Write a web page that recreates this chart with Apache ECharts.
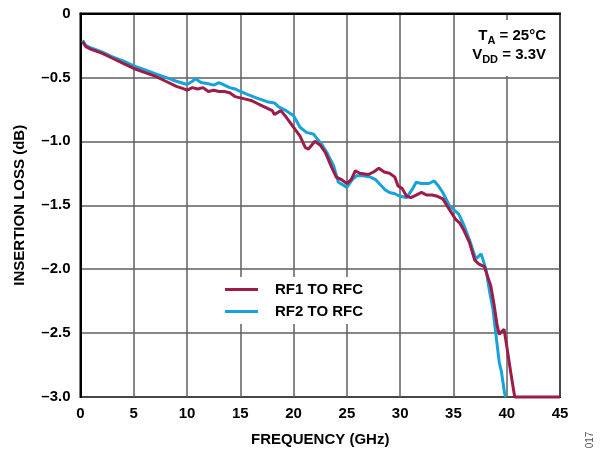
<!DOCTYPE html>
<html>
<head>
<meta charset="utf-8">
<script src="https://cdn.jsdelivr.net/npm/echarts@6/dist/echarts.min.js"></script>
<style>html,body{margin:0;padding:0;background:#fff;}#c{width:601px;height:452px;}</style>
</head>
<body>
<div id="c"></div>
<script>
// Frequency (GHz) / insertion loss (dB) pairs
var rf1Freq = [0.2,0.5,1,2,3,4,5,6,7,8,9,9.7,10,10.5,11,11.5,12,12.5,13,13.5,14,14.5,15,15.5,16,16.5,17,17.5,18,18.2,18.8,19.3,20,20.6,21.1,21.4,22,22.5,23,23.5,24,24.5,25,25.4,25.8,26.2,27,27.5,28,28.5,29,29.5,29.8,30.2,30.6,31,31.5,32,32.5,33,33.5,34,34.6,35.2,35.6,36,36.5,37,37.4,37.9,38.5,38.8,39.1,39.3,39.5,39.75,40.0,40.4,40.75,45];
var rf1Loss = [-0.22,-0.26,-0.28,-0.31,-0.35,-0.39,-0.43,-0.46,-0.49,-0.53,-0.57,-0.59,-0.60,-0.58,-0.59,-0.58,-0.61,-0.60,-0.61,-0.61,-0.62,-0.65,-0.66,-0.67,-0.68,-0.70,-0.72,-0.74,-0.76,-0.79,-0.76,-0.81,-0.89,-0.96,-1.05,-1.06,-1.00,-1.03,-1.09,-1.19,-1.28,-1.30,-1.33,-1.30,-1.23,-1.25,-1.26,-1.24,-1.21,-1.24,-1.25,-1.28,-1.35,-1.37,-1.43,-1.44,-1.42,-1.40,-1.42,-1.42,-1.43,-1.45,-1.53,-1.61,-1.64,-1.70,-1.79,-1.93,-1.96,-1.98,-2.13,-2.27,-2.44,-2.51,-2.49,-2.47,-2.60,-2.82,-3.0,-3.0];
var rf2Freq = [0.2,0.5,1,2,3,4,5,6,7,8,9,10,10.5,10.8,11.3,12,12.5,13,13.5,14,14.5,15,15.6,16.5,17.5,18.2,18.6,19.3,20,20.6,21.2,21.9,22.3,22.7,23.2,23.75,24.2,24.6,25,25.5,25.9,26.5,27.2,27.7,28.1,28.6,29,29.5,30,30.6,31.1,31.5,32,32.7,33.2,33.6,34,34.6,35.1,35.5,36,36.5,37.1,37.6,38.05,38.4,38.7,39.0,39.3,39.5,39.8,39.9];
var rf2Loss = [-0.21,-0.25,-0.27,-0.30,-0.34,-0.37,-0.41,-0.44,-0.47,-0.50,-0.53,-0.555,-0.53,-0.51,-0.54,-0.55,-0.56,-0.54,-0.56,-0.58,-0.59,-0.61,-0.63,-0.66,-0.69,-0.70,-0.73,-0.76,-0.80,-0.89,-0.93,-0.945,-0.99,-1.03,-1.10,-1.19,-1.32,-1.34,-1.36,-1.30,-1.27,-1.27,-1.28,-1.30,-1.336,-1.38,-1.40,-1.41,-1.43,-1.44,-1.38,-1.32,-1.33,-1.33,-1.31,-1.35,-1.40,-1.50,-1.54,-1.57,-1.66,-1.77,-1.92,-1.88,-2.0,-2.18,-2.31,-2.52,-2.73,-2.80,-2.97,-3.0];
var seriesNames = ['RF1 TO RFC', 'RF2 TO RFC'];
var xTicks = [0,5,10,15,20,25,30,35,40,45];
var yTicks = [0,-0.5,-1.0,-1.5,-2.0,-2.5,-3.0];

function zip(a, b) { return a.map(function (v, i) { return [v, b[i]]; }); }

var FONT = '"Liberation Sans", Arial, Helvetica, sans-serif';
var RED = '#9e1c48';
var BLUE = '#17a3d9';

var chart = echarts.init(document.getElementById('c'), null, { renderer: 'canvas' });
chart.setOption({
  animation: false,
  backgroundColor: '#fff',
  grid: { left: 80.5, right: 41, top: 13.5, bottom: 55, show: true, borderColor: '#000', borderWidth: 2, backgroundColor: 'transparent' },
  xAxis: {
    type: 'value', min: xTicks[0], max: xTicks[xTicks.length - 1], interval: 5,
    name: 'FREQUENCY (GHz)', nameLocation: 'middle', nameGap: 35,
    nameTextStyle: { fontFamily: FONT, fontWeight: 'bold', fontSize: 15, color: '#000' },
    axisLine: { show: true, lineStyle: { color: '#000', width: 2 } },
    axisTick: { show: false },
    axisLabel: { fontFamily: FONT, fontWeight: 'bold', fontSize: 15, color: '#000', margin: 9 },
    splitLine: { show: true, lineStyle: { color: '#5f5f5f', width: 1.5 } }
  },
  yAxis: {
    type: 'value', min: yTicks[yTicks.length - 1], max: yTicks[0], interval: 0.5,
    name: 'INSERTION LOSS (dB)', nameLocation: 'middle', nameGap: 53,
    nameTextStyle: { fontFamily: FONT, fontWeight: 'bold', fontSize: 15, color: '#000' },
    axisLine: { show: true, lineStyle: { color: '#000', width: 2 } },
    axisTick: { show: false },
    axisLabel: {
      fontFamily: FONT, fontWeight: 'bold', fontSize: 15, color: '#000', margin: 10,
      formatter: function (v) { return v === 0 ? '0' : '\u2013' + Math.abs(v).toFixed(1); }
    },
    splitLine: { show: true, lineStyle: { color: '#5f5f5f', width: 1.5 } }
  },
  legend: {
    data: seriesNames,
    orient: 'vertical',
    left: 218, top: 277,
    backgroundColor: '#fff',
    padding: [5, 12, 5, 7],
    itemGap: 7,
    itemWidth: 33, itemHeight: 3,
    icon: 'rect',
    textStyle: { fontFamily: FONT, fontWeight: 'bold', fontSize: 15, color: '#000', lineHeight: 15, padding: [0, 0, 0, 12] }
  },
  series: [
    { name: seriesNames[1], type: 'line', data: zip(rf2Freq, rf2Loss), showSymbol: false, symbol: 'none',
      lineStyle: { color: BLUE, width: 3 }, itemStyle: { color: BLUE }, clip: false, z: 2 },
    { name: seriesNames[0], type: 'line', data: zip(rf1Freq, rf1Loss), showSymbol: false, symbol: 'none',
      lineStyle: { color: RED, width: 3 }, itemStyle: { color: RED }, clip: false, z: 3 }
  ],
  graphic: [
    { type: 'rect', shape: { x: 462, y: 20, width: 96, height: 56 }, style: { fill: '#fff' }, z: 50 },
    { type: 'text', x: 546, y: 30, z: 51, style: {
        text: '{m|T}{s|A}{m| = 25°C}', align: 'right', verticalAlign: 'top',
        rich: {
          m: { fontFamily: FONT, fontWeight: 'bold', fontSize: 15, lineHeight: 16, padding: [0, 0, 2.5, 0], verticalAlign: 'bottom', fill: '#000' },
          s: { fontFamily: FONT, fontWeight: 'bold', fontSize: 11, lineHeight: 12, verticalAlign: 'bottom', fill: '#000' }
        } } },
    { type: 'text', x: 546, y: 49.5, z: 51, style: {
        text: '{m|V}{s|DD}{m| = 3.3V}', align: 'right', verticalAlign: 'top',
        rich: {
          m: { fontFamily: FONT, fontWeight: 'bold', fontSize: 15, lineHeight: 16, padding: [0, 0, 3, 0], verticalAlign: 'bottom', fill: '#000' },
          s: { fontFamily: FONT, fontWeight: 'bold', fontSize: 11, lineHeight: 12, verticalAlign: 'bottom', fill: '#000' }
        } } },
    { type: 'text', x: 590, y: 440, rotation: Math.PI / 2, z: 51, style: {
        text: '017', fontFamily: FONT, fontSize: 10, fill: '#555', align: 'center', verticalAlign: 'middle' } }
  ]
});
</script>
</body>
</html>
